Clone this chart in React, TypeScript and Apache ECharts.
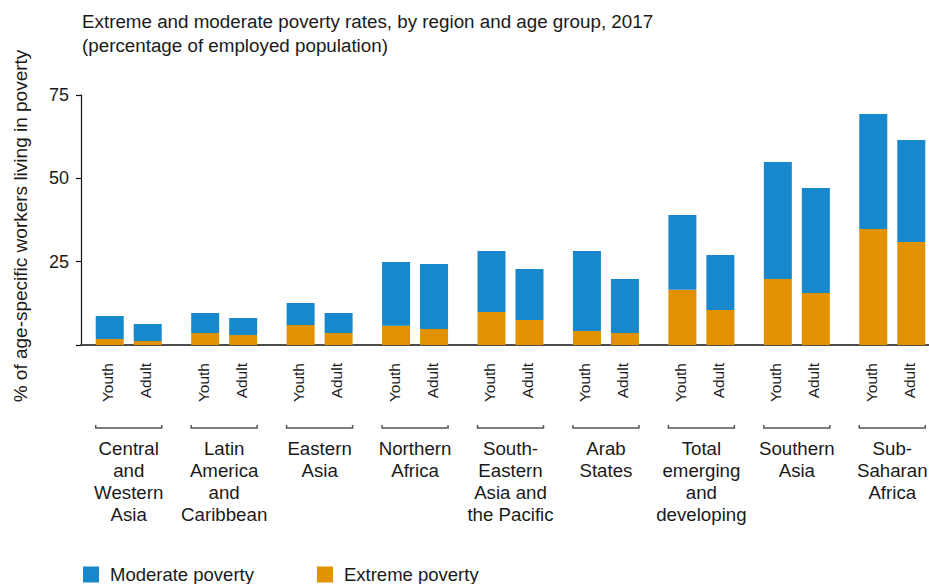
import React, { useEffect, useRef } from "react";
import * as echarts from "echarts";

const FONT = '"Liberation Sans", Arial, Helvetica, sans-serif';
const TEXT = "#1a1a1a";
const BLUE = "#1788cb";
const ORANGE = "#e29100";

const titleLines = [
  "Extreme and moderate poverty rates, by region and age group, 2017",
  "(percentage of employed population)",
];
const yAxisTitle = "% of age-specific workers living in poverty";
const regions = [
  "Central\nand\nWestern\nAsia",
  "Latin\nAmerica\nand\nCaribbean",
  "Eastern\nAsia",
  "Northern\nAfrica",
  "South-\nEastern\nAsia and\nthe Pacific",
  "Arab\nStates",
  "Total\nemerging\nand\ndeveloping",
  "Southern\nAsia",
  "Sub-\nSaharan\nAfrica",
];
const ageGroups = ["Youth", "Adult"];
const seriesNames = ["Moderate poverty", "Extreme poverty"];
const yTicks = [0, 25, 50, 75];

// Extreme poverty (bottom segment)
const youthExtreme = [1.8, 3.6, 6.0, 5.8, 9.9, 4.2, 16.6, 19.8, 34.8];
const adultExtreme = [1.2, 3.0, 3.6, 4.8, 7.5, 3.6, 10.5, 15.6, 30.9];
// Moderate poverty (top segment)
const youthModerate = [6.9, 6.0, 6.6, 19.1, 18.3, 24.0, 22.4, 35.1, 34.5];
const adultModerate = [5.1, 5.1, 6.0, 19.5, 15.3, 16.2, 16.5, 31.5, 30.6];

const BAR_W = 28;
const BAR_GAP = 10;

export default function App() {
  const ref = useRef<HTMLDivElement>(null);
  useEffect(() => {
    if (!ref.current) return;
    const chart = echarts.init(ref.current, undefined, { renderer: "svg" });
    const half = BAR_W / 2 + BAR_GAP / 2;
    const option: any = {
      animation: false,
      backgroundColor: "#ffffff",
      textStyle: { fontFamily: FONT },
      title: {
        text: titleLines.join("\n"),
        left: 82,
        top: 9,
        padding: 0,
        textStyle: {
          fontFamily: FONT,
          fontSize: 18.8,
          lineHeight: 24,
          fontWeight: "normal",
          color: TEXT,
        },
      },
      legend: {
        data: seriesNames,
        left: 83,
        top: 565,
        padding: 0,
        itemWidth: 16,
        itemHeight: 16,
        itemGap: 63,
        icon: "rect",
        textStyle: { fontFamily: FONT, fontSize: 18.5, color: TEXT, padding: [0, 0, 0, 6] },
      },
      graphic: [
        {
          type: "text",
          x: 20,
          y: 226,
          rotation: Math.PI / 2,
          style: {
            text: yAxisTitle,
            fontFamily: FONT,
            fontSize: 19,
            fill: TEXT,
            align: "center",
            verticalAlign: "middle",
            textAlign: "center",
            textVerticalAlign: "middle",
          },
        },
      ],
      grid: { left: 81, top: 95, width: 859, height: 250, containLabel: false },
      xAxis: {
        type: "category",
        data: regions,
        axisLine: { show: true, lineStyle: { color: "#4d4d4d", width: 2 } },
        axisTick: { show: false },
        axisLabel: {
          interval: 0,
          margin: 92,
          fontFamily: FONT,
          fontSize: 18.7,
          lineHeight: 22,
          color: TEXT,
          align: "center",
        },
      },
      yAxis: {
        type: "value",
        min: yTicks[0],
        max: yTicks[yTicks.length - 1],
        interval: 25,
        splitLine: { show: false },
        axisLine: { show: true, lineStyle: { color: "#111", width: 1.2 } },
        axisTick: { show: true, length: 5, lineStyle: { color: "#111", width: 1.2 } },
        axisLabel: {
          margin: 12,
          fontFamily: FONT,
          fontSize: 18,
          color: TEXT,
          formatter: (v: number) => (v === 0 ? "" : String(v)),
        },
      },
      series: [
        {
          name: seriesNames[1],
          type: "bar",
          stack: "youth",
          data: youthExtreme,
          barWidth: BAR_W,
          barGap: (BAR_GAP / BAR_W) * 100 + "%",
          itemStyle: { color: ORANGE },
        },
        {
          name: seriesNames[0],
          type: "bar",
          stack: "youth",
          data: youthModerate,
          barWidth: BAR_W,
          itemStyle: { color: BLUE },
        },
        {
          name: seriesNames[1],
          type: "bar",
          stack: "adult",
          data: adultExtreme,
          barWidth: BAR_W,
          itemStyle: { color: ORANGE },
        },
        {
          name: seriesNames[0],
          type: "bar",
          stack: "adult",
          data: adultModerate,
          barWidth: BAR_W,
          itemStyle: { color: BLUE },
        },
        {
          type: "custom",
          clip: false,
          silent: true,
          data: regions.map((_, i) => [i, 0]),
          renderItem: (params: any, api: any) => {
            const p = api.coord([api.value(0), 0]);
            const cx = p[0];
            const y0 = p[1];
            const mk = (txt: string, x: number) => ({
              type: "text",
              x,
              y: y0 + 18,
              rotation: Math.PI / 2,
              style: {
                text: txt,
                fontFamily: FONT,
                fontSize: 15.5,
                fill: TEXT,
                align: "right",
                verticalAlign: "middle",
              },
            });
            const bw = half + BAR_W / 2;
            return {
              type: "group",
              children: [
                mk(ageGroups[0], cx - half - 2),
                mk(ageGroups[1], cx + half - 2),
                {
                  type: "polyline",
                  shape: {
                    points: [
                      [cx - bw, y0 + 80],
                      [cx - bw, y0 + 83],
                      [cx + bw, y0 + 83],
                      [cx + bw, y0 + 80],
                    ],
                  },
                  style: { stroke: "#555", lineWidth: 1.5, fill: null },
                },
              ],
            };
          },
        },
      ],
    };
    chart.setOption(option);
    return () => chart.dispose();
  }, []);
  return (
    <div
      style={{
        position: "fixed",
        left: 0,
        top: 0,
        width: 929,
        height: 584,
        overflow: "hidden",
        background: "#fff",
      }}
    >
      <div ref={ref} style={{ width: 945, height: 584 }} />
    </div>
  );
}
